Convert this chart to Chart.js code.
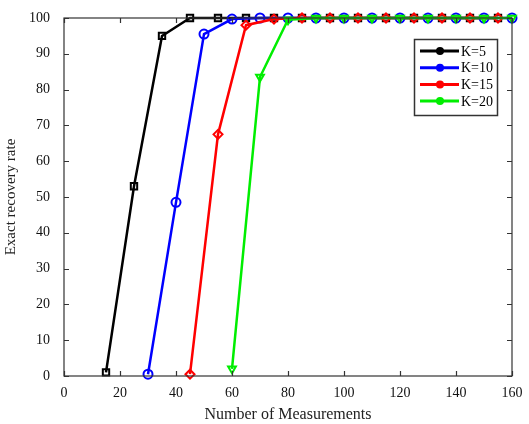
<!DOCTYPE html>
<html>
<head>
<meta charset="utf-8">
<script src="https://cdn.jsdelivr.net/npm/chart.js@4"></script>
<style>
  html, body { margin: 0; padding: 0; background: #fff; }
  #wrap { width: 529px; height: 424px; }
</style>
</head>
<body>
<div id="wrap"><canvas id="c" width="529" height="424"></canvas></div>
<script>
const k5X  = [15, 25, 35, 45, 55, 65, 75, 85, 95, 105, 115, 125, 135, 145, 155];
const k5Y  = [1, 53, 95, 100, 100, 100, 100, 100, 100, 100, 100, 100, 100, 100, 100];
const k10X = [30, 40, 50, 60, 70, 80, 90, 100, 110, 120, 130, 140, 150, 160];
const k10Y = [0.5, 48.5, 95.5, 99.7, 100, 100, 100, 100, 100, 100, 100, 100, 100, 100];
const k15X = [45, 55, 65, 75, 85, 95, 105, 115, 125, 135, 145, 155];
const k15Y = [0.5, 67.5, 98, 99.7, 100, 100, 100, 100, 100, 100, 100, 100];
const k20X = [60, 70, 80, 90, 100, 110, 120, 130, 140, 150, 160];
const k20Y = [2, 83.5, 99.5, 100, 100, 100, 100, 100, 100, 100, 100];

const xTicks = [0, 20, 40, 60, 80, 100, 120, 140, 160];
const yTicks = [0, 10, 20, 30, 40, 50, 60, 70, 80, 90, 100];

const FONT = '"Liberation Serif", "DejaVu Serif", serif';

function pts(xs, ys) { return xs.map((x, i) => ({ x, y: ys[i] })); }

function series(label, xs, ys, color, style, order, rot) {
  return {
    label,
    data: pts(xs, ys),
    borderColor: color,
    backgroundColor: color,
    borderWidth: 2.5,
    pointStyle: style,
    pointRotation: rot || 0,
    pointRadius: 4.5,
    pointBorderWidth: 2,
    pointBackgroundColor: 'rgba(255,255,255,0)',
    pointBorderColor: color,
    order,
    clip: false,
    tension: 0,
  };
}

// MATLAB-like frame with inward ticks + boxed legend
const framePlugin = {
  id: 'frame',
  afterDraw(chart) {
    const { ctx, chartArea: a, scales } = chart;
    ctx.save();
    ctx.strokeStyle = '#333';
    ctx.lineWidth = 1.2;
    ctx.strokeRect(a.left, a.top, a.right - a.left, a.bottom - a.top);
    ctx.beginPath();
    xTicks.forEach(v => {
      const px = Math.round(scales.x.getPixelForValue(v)) + 0.5;
      ctx.moveTo(px, a.bottom); ctx.lineTo(px, a.bottom - 5);
      ctx.moveTo(px, a.top);    ctx.lineTo(px, a.top + 5);
    });
    yTicks.forEach(v => {
      const py = Math.round(scales.y.getPixelForValue(v)) + 0.5;
      ctx.moveTo(a.left, py);  ctx.lineTo(a.left + 5, py);
      ctx.moveTo(a.right, py); ctx.lineTo(a.right - 5, py);
    });
    ctx.stroke();

    // legend
    const bx = 414, by = 39, bw = 83, bh = 76;
    ctx.fillStyle = '#fff';
    ctx.fillRect(bx, by, bw, bh);
    ctx.strokeStyle = '#333';
    ctx.lineWidth = 1.5;
    ctx.strokeRect(bx + 0.5, by + 0.5, bw, bh);
    const ds = chart.data.datasets;
    ds.forEach((d, i) => {
      const y = by + 12 + i * 16.7;
      ctx.strokeStyle = d.borderColor;
      ctx.lineWidth = 3;
      ctx.beginPath();
      ctx.moveTo(bx + 6, y); ctx.lineTo(bx + 45, y);
      ctx.stroke();
      ctx.fillStyle = d.borderColor;
      ctx.beginPath();
      ctx.arc(bx + 26, y, 4, 0, Math.PI * 2);
      ctx.fill();
      ctx.fillStyle = '#000';
      ctx.font = '14px ' + FONT;
      ctx.textBaseline = 'middle';
      ctx.textAlign = 'left';
      ctx.fillText(d.label, bx + 47, y + 1);
    });
    ctx.restore();
  }
};

new Chart(document.getElementById('c'), {
  type: 'line',
  data: {
    datasets: [
      series('K=5',  k5X,  k5Y,  '#000000', 'rect', 4),
      series('K=10', k10X, k10Y, '#0000ff', 'circle', 3),
      series('K=15', k15X, k15Y, '#ff0000', 'rectRot', 2),
      series('K=20', k20X, k20Y, '#00ee00', 'triangle', 1, 180),
    ]
  },
  options: {
    responsive: false,
    animation: false,
    layout: { padding: { left: 0, right: 17, top: 18, bottom: 0 } },
    plugins: { legend: { display: false }, tooltip: { enabled: false } },
    scales: {
      x: {
        type: 'linear',
        min: 0, max: 160,
        afterBuildTicks: s => { s.ticks = xTicks.map(v => ({ value: v })); },
        afterFit: s => { s.height = 48; },
        grid: { display: false },
        border: { display: false },
        ticks: { color: '#111', font: { family: FONT, size: 14 }, padding: 1, maxRotation: 0 },
        title: { display: true, text: 'Number of Measurements', color: '#222', font: { family: FONT, size: 16 }, padding: { top: 2, bottom: 0 } },
      },
      y: {
        min: 0, max: 100,
        afterBuildTicks: s => { s.ticks = yTicks.map(v => ({ value: v })); },
        afterFit: s => { s.width = 64; },
        grid: { display: false },
        border: { display: false },
        ticks: { color: '#111', font: { family: FONT, size: 14 }, padding: 6 },
        title: { display: true, text: 'Exact recovery rate', color: '#222', font: { family: FONT, size: 15 }, padding: { top: 2, bottom: 0 } },
      }
    }
  },
  plugins: [framePlugin]
});
</script>
</body>
</html>
